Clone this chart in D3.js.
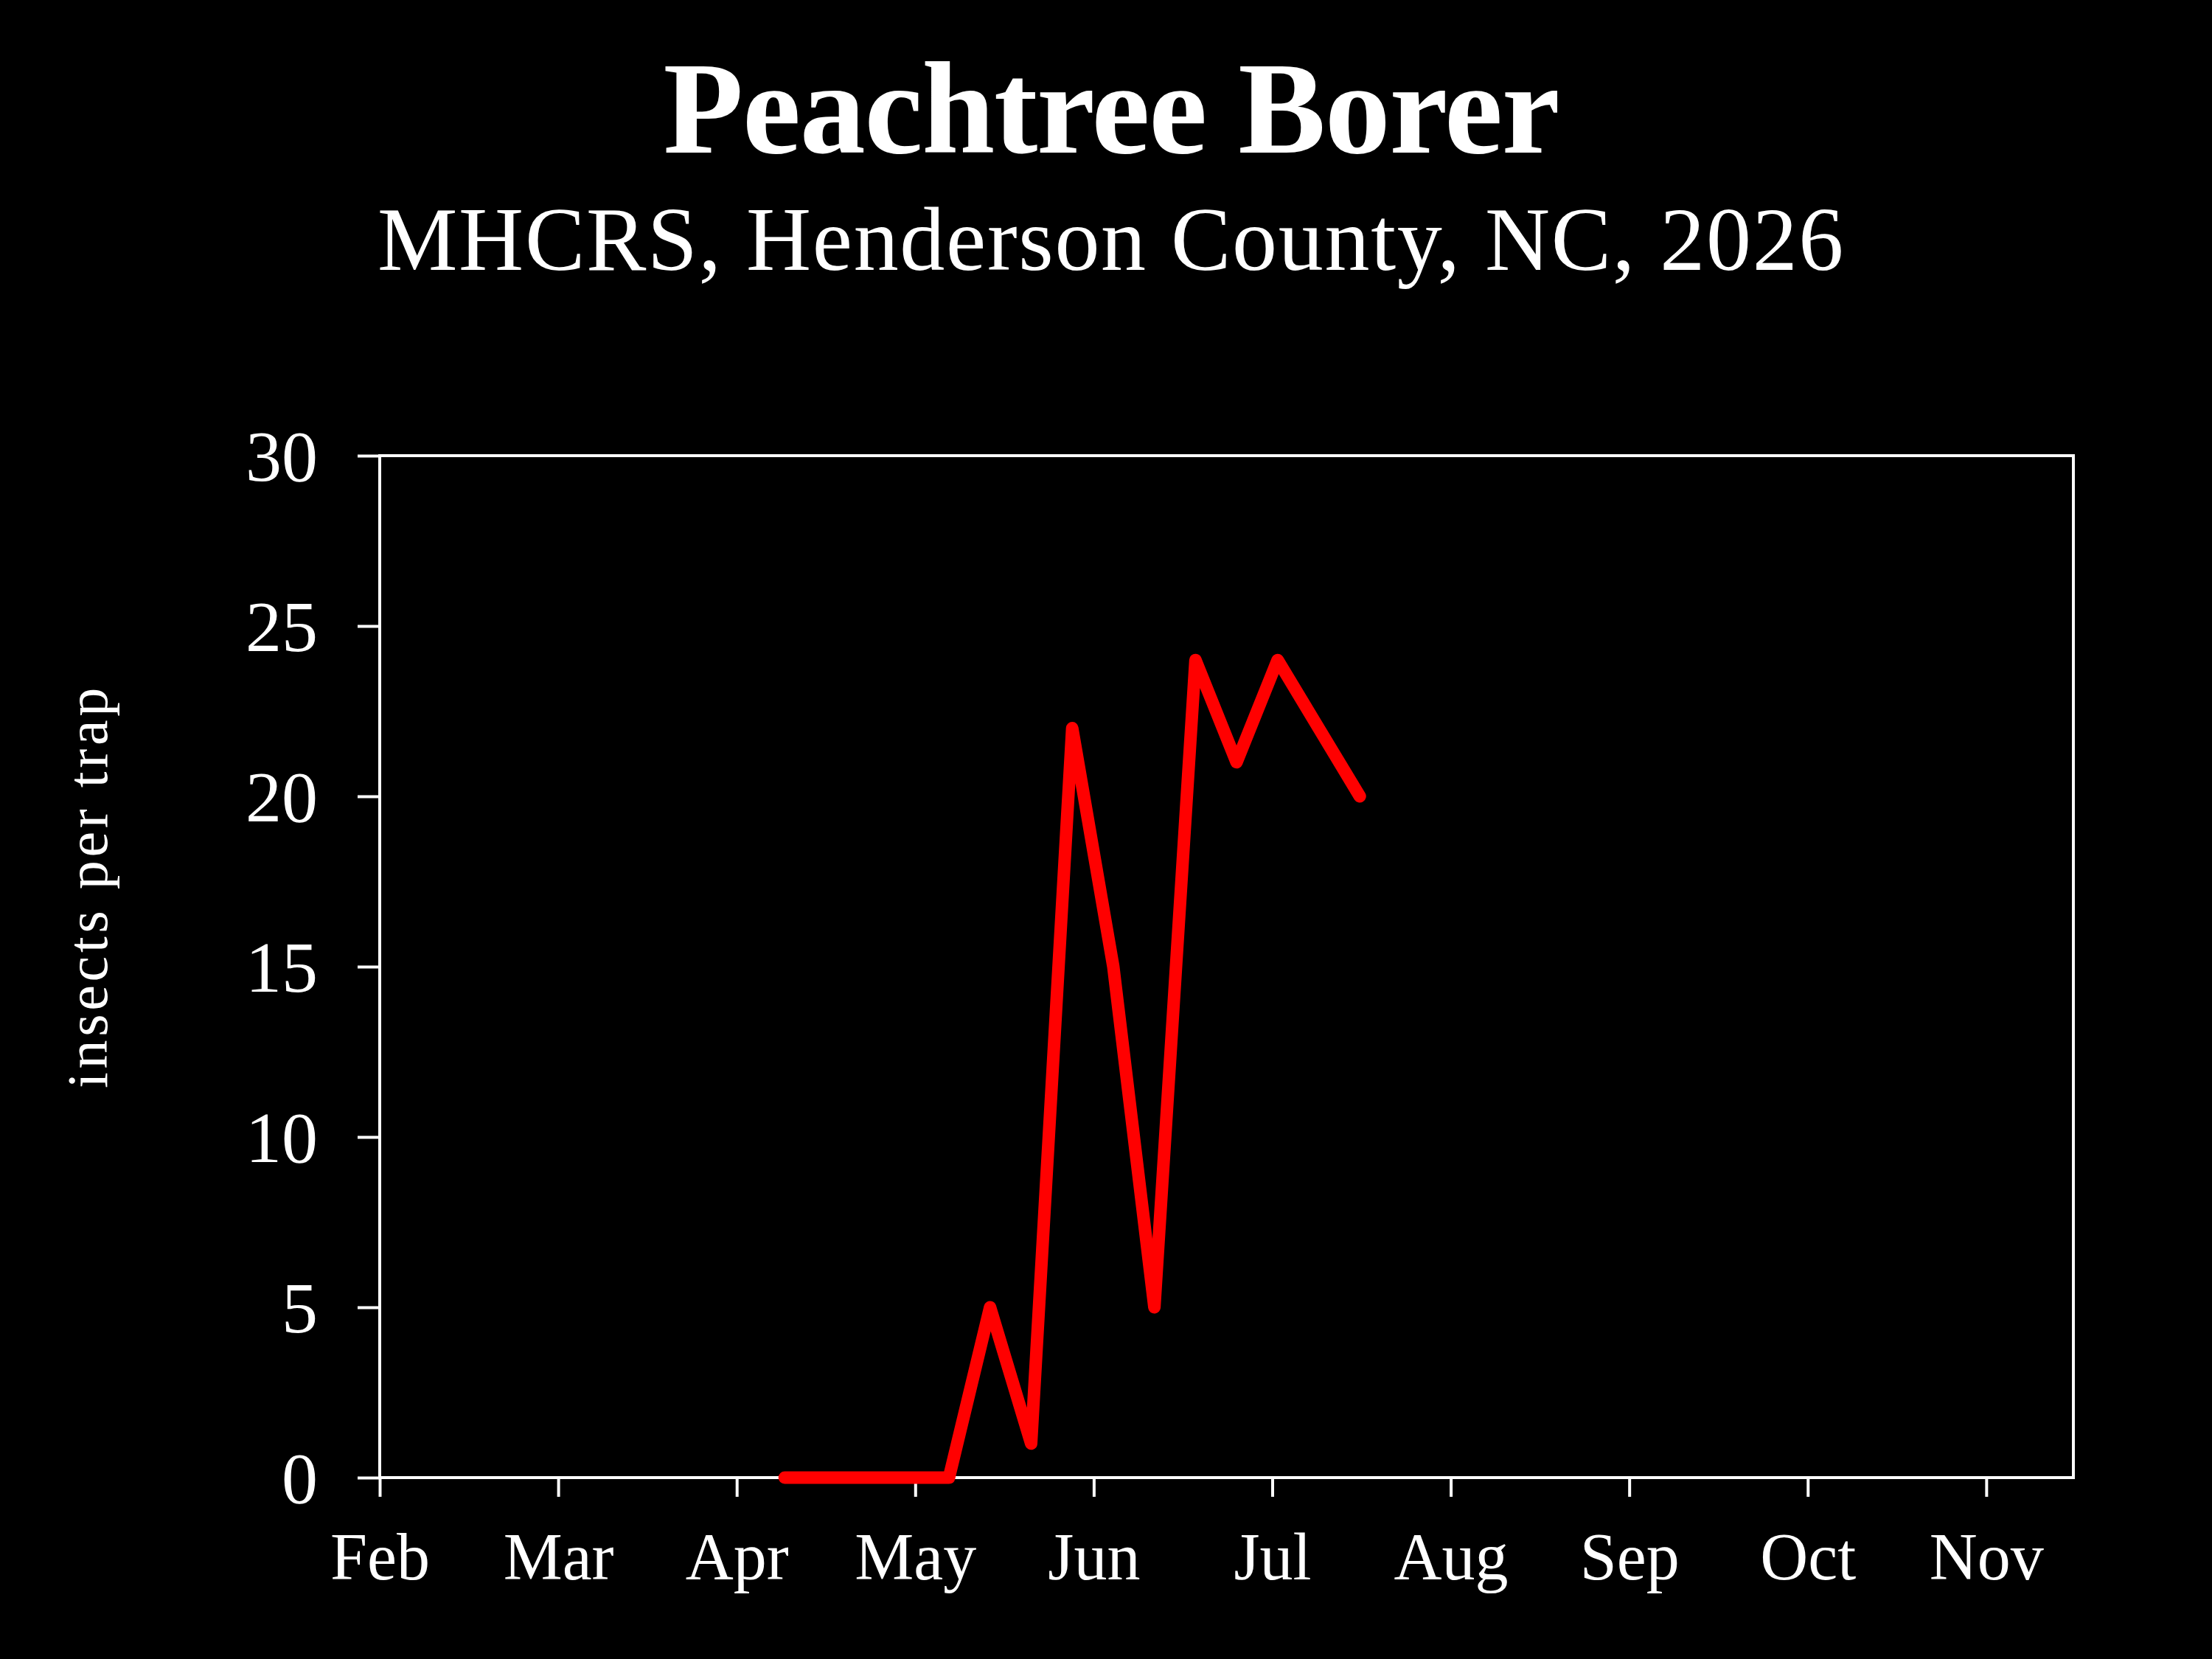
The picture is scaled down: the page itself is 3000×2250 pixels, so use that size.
<!DOCTYPE html>
<html>
<head>
<meta charset="utf-8">
<script src="https://cdn.jsdelivr.net/npm/d3@7"></script>
<style>
  html, body { margin: 0; padding: 0; background: #000; }
  svg { display: block; }
  text { font-family: "Liberation Serif", "Times New Roman", serif; fill: #fff; }
</style>
</head>
<body>
<script>
// trap catch data, weekly checks
var sampleDates = ['2026-04-11', '2026-04-18', '2026-04-25', '2026-05-02', '2026-05-09',
                   '2026-05-16', '2026-05-23', '2026-05-30', '2026-06-06', '2026-06-13',
                   '2026-06-20', '2026-06-27', '2026-07-04', '2026-07-11', '2026-07-18'];
var insectsPerTrap = [0, 0, 0, 0, 0, 5, 1, 22, 15, 5, 24, 21, 24, 22, 20];
var monthLabels = ['Feb', 'Mar', 'Apr', 'May', 'Jun', 'Jul', 'Aug', 'Sep', 'Oct', 'Nov'];
var yTicks = [0, 5, 10, 15, 20, 25, 30];

const WIDTH  = 3000;
const HEIGHT = 2250;
const PLOT = { left: 515, right: 2812, top: 618, bottom: 2004 };
const MONTH_DAYS = 365 / 12;   // axis ticks are evenly spaced
const START = new Date(2026, 1, 1);

var parse = d3.timeParse('%Y-%m-%d');
var points = sampleDates.map(function (d, i) {
  return { day: d3.timeDay.count(START, parse(d)), value: insectsPerTrap[i] };
});

var x = d3.scaleLinear()
  .domain([0, 9.488 * MONTH_DAYS])
  .range([PLOT.left, PLOT.right]);
var y = d3.scaleLinear()
  .domain([0, 30])
  .range([PLOT.bottom, PLOT.top]);

var svg = d3.select('body').append('svg')
  .attr('width', WIDTH)
  .attr('height', HEIGHT);

svg.append('rect')
  .attr('width', WIDTH).attr('height', HEIGHT)
  .attr('fill', '#000');

// stretch a text to a measured width with letter spacing
function fitWidth(sel, target) {
  var n = sel.text().length;
  var w = sel.node().getComputedTextLength();
  sel.attr('letter-spacing', ((target - w) / n).toFixed(2));
}

// titles
svg.append('text')
  .attr('x', 1507).attr('y', 207)
  .attr('text-anchor', 'middle')
  .attr('font-size', 178)
  .attr('font-weight', 'bold')
  .text('Peachtree Borer')
  .call(fitWidth, 1215);

svg.append('text')
  .attr('x', 1507).attr('y', 366)
  .attr('text-anchor', 'middle')
  .attr('font-size', 122)
  .text('MHCRS, Henderson County, NC, 2026')
  .call(fitWidth, 1990);

// y axis
var yAxis = d3.axisLeft(y)
  .tickValues(yTicks)
  .tickSize(30)
  .tickPadding(54);
var gy = svg.append('g')
  .attr('transform', 'translate(' + PLOT.left + ',0)')
  .call(yAxis);
gy.select('.domain').remove();

// x axis, one tick per month
var xAxis = d3.axisBottom(x)
  .tickValues(d3.range(monthLabels.length).map(function (i) { return i * MONTH_DAYS; }))
  .tickFormat(function (d, i) { return monthLabels[i]; })
  .tickSize(26)
  .tickPadding(112);
var gx = svg.append('g')
  .attr('transform', 'translate(0,' + PLOT.bottom + ')')
  .call(xAxis);
gx.select('.domain').remove();

[gx, gy].forEach(function (g) {
  g.selectAll('line').attr('stroke', '#fff').attr('stroke-width', 4);
  g.selectAll('text')
    .attr('fill', '#fff')
    .style('font-family', '"Liberation Serif", serif');
});
gy.selectAll('text').attr('font-size', 98).attr('dy', '0.34em');
gx.selectAll('text').attr('font-size', 90).attr('dy', '0');

// frame
svg.append('rect')
  .attr('x', PLOT.left).attr('y', PLOT.top)
  .attr('width', PLOT.right - PLOT.left)
  .attr('height', PLOT.bottom - PLOT.top)
  .attr('fill', 'none')
  .attr('stroke', '#fff')
  .attr('stroke-width', 4);

// y label
svg.append('text')
  .attr('transform', 'translate(145,1202) rotate(-90)')
  .attr('text-anchor', 'middle')
  .attr('font-size', 78)
  .text('insects per trap')
  .call(fitWidth, 548);

// catch line
var line = d3.line()
  .x(function (d) { return x(d.day); })
  .y(function (d) { return y(d.value); });

svg.append('path')
  .datum(points)
  .attr('d', line)
  .attr('fill', 'none')
  .attr('stroke', '#ff0000')
  .attr('stroke-width', 17)
  .attr('stroke-linejoin', 'round')
  .attr('stroke-linecap', 'round');
</script>
</body>
</html>
